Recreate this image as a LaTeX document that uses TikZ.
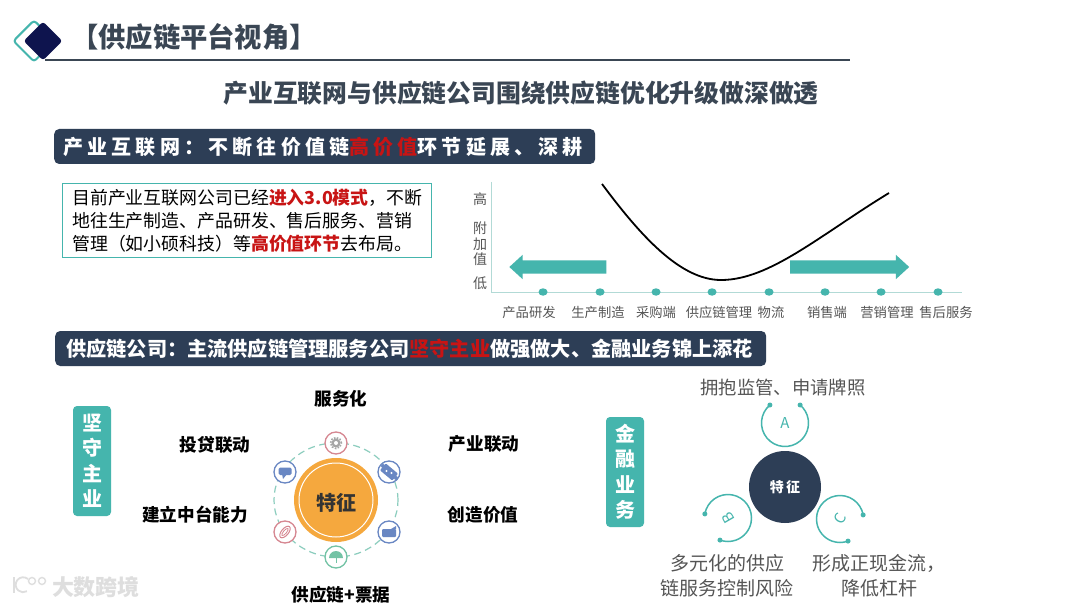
\documentclass[tikz,border=0pt]{standalone}
\usepackage{fontspec}
\usepackage{xcolor}
\usepackage{tikz}
\usetikzlibrary{arrows.meta,positioning,calc,shapes.geometric,shapes.arrows}
\setmainfont{Noto Sans CJK SC}
\definecolor{slatebar}{RGB}{45,62,86}
\definecolor{softink}{RGB}{58,70,84}
\definecolor{tealmain}{RGB}{69,181,173}
\definecolor{tealaxis}{RGB}{178,218,214}
\definecolor{tealdash}{RGB}{140,205,190}
\definecolor{navyicon}{RGB}{14,20,78}
\definecolor{hotred}{RGB}{200,20,20}
\definecolor{hubfill}{RGB}{245,168,62}
\definecolor{ringpink}{RGB}{214,135,145}
\definecolor{ringblue}{RGB}{105,135,195}
\definecolor{ringgreen}{RGB}{115,195,165}
\definecolor{greytext}{RGB}{85,85,85}
\definecolor{markgrey}{RGB}{222,222,222}
\newcommand{\fsz}[2]{\fontsize{#1}{#2}\selectfont}

\begin{document}
\begin{tikzpicture}[x=1pt,y=-1pt,
    barbox/.style={fill=slatebar,rounded corners=5pt,inner sep=0pt,anchor=west,text=white},
    badge/.style={fill=tealmain,rounded corners=4pt,minimum width=38pt,inner sep=0pt,
      text=white,align=center,font=\fsz{20}{25.5}\bfseries},
    featlabel/.style={font=\fsz{17.6}{21}\bfseries,text=black},
    steplabel/.style={font=\fsz{13.3}{16},text=greytext},
    ylabel/.style={font=\fsz{14}{16},text=greytext},
    tealarrow/.style={single arrow,fill=tealmain,minimum height=97pt,
      inner xsep=0pt,inner ysep=6.5pt,single arrow head extend=5.5pt,single arrow tip angle=85},
    iconring/.style={circle,fill=white,line width=1.3pt,minimum size=22pt,inner sep=0pt},
    arcring/.style={circle,minimum size=47pt,inner sep=0pt,outer sep=0pt,
      text=tealmain,font=\fsz{15}{17}},
    arcline/.style={draw=tealmain,line width=1.5pt},
    sidetext/.style={font=\fsz{19}{25},text=greytext,align=center}]
  \useasboundingbox (0,0) rectangle (1080,607);
  \fill[white] (0,0) rectangle (1080,607);

  \coordinate (ruleL) at (45,60);
  \coordinate (ruleR) at (850,60);
  \draw[softink,line width=2pt] (ruleL) -- (ruleR);
  \node[diamond,draw=tealmain,line width=2pt,rounded corners=3pt,minimum size=42pt,inner sep=0pt]
    (iconback) at (34,41) {};
  \node[diamond,fill=navyicon,rounded corners=3pt,minimum size=39pt,inner sep=0pt]
    (iconfront) at (43,41) {};
  \node[font=\fsz{27.3}{30}\bfseries,text=softink] (pagetitle) at (194,37) {【供应链平台视角】};
  \node[font=\fsz{24.8}{30}\bfseries,text=softink] (headline) at (521,93)
    {产业互联网与供应链公司围绕供应链优化升级做深做透};

  \node[barbox,minimum width=541pt,minimum height=35pt] (barnet) at (54,146.5) {};
  \node[anchor=west,inner sep=0pt,text=white,font=\fsz{20}{24}\bfseries\addfontfeature{LetterSpace=21}]
    (barnettext) at (63,146.5) {产业互联网：不断往价值链{\color{hotred}高价值}环节延展、深耕};

  \node[draw=tealmain,line width=0.8pt,anchor=north west,minimum width=369pt,minimum height=74pt,
    inner sep=0pt] (notebox) at (62,183) {};
  \node[anchor=west,inner sep=0pt,align=left,font=\fsz{17.9}{23},text=black]
    (notetext) at (72,221) {目前产业互联网公司已经{\bfseries\color{hotred}进入3.0模式}，不断\\
    地往生产制造、产品研发、售后服务、营销\\
    管理（如小硕科技）等{\bfseries\color{hotred}高价值环节}去布局。};

  \coordinate (axisTop) at (491,182);
  \coordinate (axisO) at (491,292);
  \coordinate (axisEnd) at (962,292);
  \draw[tealaxis,line width=1pt] (axisTop) -- (axisO) -- (axisEnd);
  \foreach \nm/\px in {dota/543,dotb/600,dotc/656,dotd/712,dote/769,dotf/825,dotg/881,doth/938}
    \node[ellipse,fill=tealmain,minimum width=9pt,minimum height=7.5pt,inner sep=0pt] (\nm) at (\px,292) {};
  \draw[black,line width=1.8pt] (602,184) .. controls (640,235) and (680,280) .. (721,280)
    .. controls (770,280) and (820,235) .. (889,193);
  \node[tealarrow,shape border rotate=180] (arrowleft) at (561.5,267) {};
  \node[tealarrow,minimum height=119pt] (arrowright) at (846,267) {};
  \foreach \nm/\txt/\py in {yhigh/高/199,ya/附/228,yb/加/244,yc/值/259,ylow/低/283}
    \node[ylabel] (\nm) at (480,\py) {\txt};
  \foreach \nm/\txt/\px in {sa/产品研发/529,sb/生产制造/598,sc/采购端/656,sd/供应链管理/719,
      se/物流/771,sf/销售端/827,sg/营销管理/887,sh/售后服务/946}
    \node[steplabel] (\nm) at (\px,312) {\txt};

  \node[barbox,minimum width=711pt,minimum height=35pt] (barchain) at (55,348.5) {};
  \node[anchor=west,inner sep=0pt,text=white,font=\fsz{20.2}{24}\bfseries]
    (barchaintext) at (66,348.5) {供应链公司：主流供应链管理服务公司{\color{hotred}坚守主业}做强做大、金融业务锦上添花};

  \node[badge,minimum height=110pt] (badgecore) at (92,461) {坚\\守\\主\\业};
  \node[badge,minimum height=110pt] (badgefin) at (625,472) {金\\融\\业\\务};

  \node[featlabel] (fa) at (341,399) {服务化};
  \node[featlabel] (fb) at (215,445) {投贷联动};
  \node[featlabel] (fc) at (484,444) {产业联动};
  \node[featlabel] (fd) at (195,515) {建立中台能力};
  \node[featlabel] (fe) at (483,515) {创造价值};
  \node[featlabel] (ff) at (341,595) {供应链+票据};

  \coordinate (hubC) at (336,500);
  \draw[tealdash,line width=1.2pt,dash pattern=on 7pt off 4.5pt] (hubC) ellipse[x radius=62pt,y radius=57pt];
  \node[circle,fill=hubfill,minimum size=84pt,inner sep=0pt] (hub) at (hubC) {};
  \node[circle,draw=white,line width=1pt,minimum size=74pt,inner sep=0pt] (hubring) at (hubC) {};
  \node[font=\fsz{20}{24}\bfseries,text=black!80] (hubtext) at (336,503) {特征};
  \foreach \nm/\dx/\dy/\col in {ringa/0/-57/ringpink,ringb/53/-28/ringblue,ringc/53/32/ringblue,
      ringd/0/57/ringgreen,ringe/-51/32/ringpink,ringf/-51/-28/ringblue}
    \node[iconring,draw=\col] (\nm) at ($(hubC)+(\dx,\dy)$) {};
  \fill[gray!70] (ringa) circle[radius=4.5pt];
  \draw[gray!70,line width=1.6pt,dash pattern=on 1.6pt off 1.4pt] (ringa) circle[radius=5.5pt];
  \fill[white] (ringa) circle[radius=2pt];
  \fill[ringblue,rounded corners=1pt,rotate around={-40:(ringb)}] ($(ringb)+(-8,-4.5)$) rectangle ($(ringb)+(8,4.5)$);
  \fill[white] ($(ringb)+(-2.5,-1)$) circle[radius=1.2pt] ($(ringb)+(2.5,1)$) circle[radius=1.2pt];
  \fill[ringblue] ($(ringb)+(7,6)$) circle[radius=2pt] ($(ringb)+(-6,-6)$) circle[radius=2pt];
  \fill[ringblue,rounded corners=1pt] ($(ringc)+(-7,-3)$) rectangle ($(ringc)+(7,5)$);
  \fill[ringblue] ($(ringc)+(2,-3)$) -- ($(ringc)+(7,-6)$) -- ($(ringc)+(7,-3)$) -- cycle;
  \fill[ringgreen] ($(ringd)+(-7,1)$) arc[start angle=180,end angle=0,radius=7pt] -- cycle;
  \draw[ringgreen,line width=0.8pt] ($(ringd)+(0,1)$) -- ($(ringd)+(0,6)$);
  \draw[ringpink,line width=1pt,rotate around={50:(ringe)}] (ringe) ellipse[x radius=7pt,y radius=3.5pt];
  \draw[ringpink,line width=0.8pt,rotate around={50:(ringe)}] (ringe) ellipse[x radius=4.5pt,y radius=1.6pt];
  \fill[ringblue,rounded corners=1.5pt] ($(ringf)+(-6.5,-4.5)$) rectangle ($(ringf)+(6.5,3)$);
  \fill[ringblue] ($(ringf)+(-3,2)$) -- ($(ringf)+(-2,7)$) -- ($(ringf)+(2,2)$) -- cycle;

  \node[circle,fill=slatebar,minimum size=72pt,inner sep=0pt,text=white,
    font=\fsz{14}{16}\bfseries\addfontfeature{LetterSpace=15}] (core) at (785,487) {特征};
  \node[arcring] (arca) at (785,423) {A};
  \node[arcring] (arcb) at (728,518) {\rotatebox{120}{B}};
  \node[arcring] (arcc) at (840,519) {\rotatebox{60}{C}};
  \draw[arcline] (arca.130) arc[start angle=130,end angle=410,radius=23.5pt];
  \draw[arcline] (arcb.170) arc[start angle=170,end angle=-110,radius=23.5pt];
  \draw[arcline] (arcc.10) arc[start angle=10,end angle=290,radius=23.5pt];
  \foreach \pt in {arca.130,arca.50,arcb.170,arcb.250,arcc.10,arcc.290}
    \fill[tealmain] (\pt) circle[radius=2.5pt];

  \node[font=\fsz{18.3}{22},text=greytext] (capa) at (783,388) {拥抱监管、申请牌照};
  \node[sidetext] (capb) at (727,576) {多元化的供应\\链服务控制风险};
  \node[sidetext] (capc) at (879,576) {形成正现金流，\\降低杠杆};

  \node[font=\fsz{22}{24}\bfseries,text=markgrey] (markword) at (96,587) {大数跨境};
  \draw[markgrey,line width=1.8pt] (14,577) -- (14,593);
  \draw[markgrey,line width=1.8pt] (28,579) arc[start angle=50,end angle=300,radius=7.5pt];
  \draw[markgrey,line width=1.4pt] (32,581) circle[radius=3.5pt] (42,581) circle[radius=3.5pt];
\end{tikzpicture}
\end{document}
